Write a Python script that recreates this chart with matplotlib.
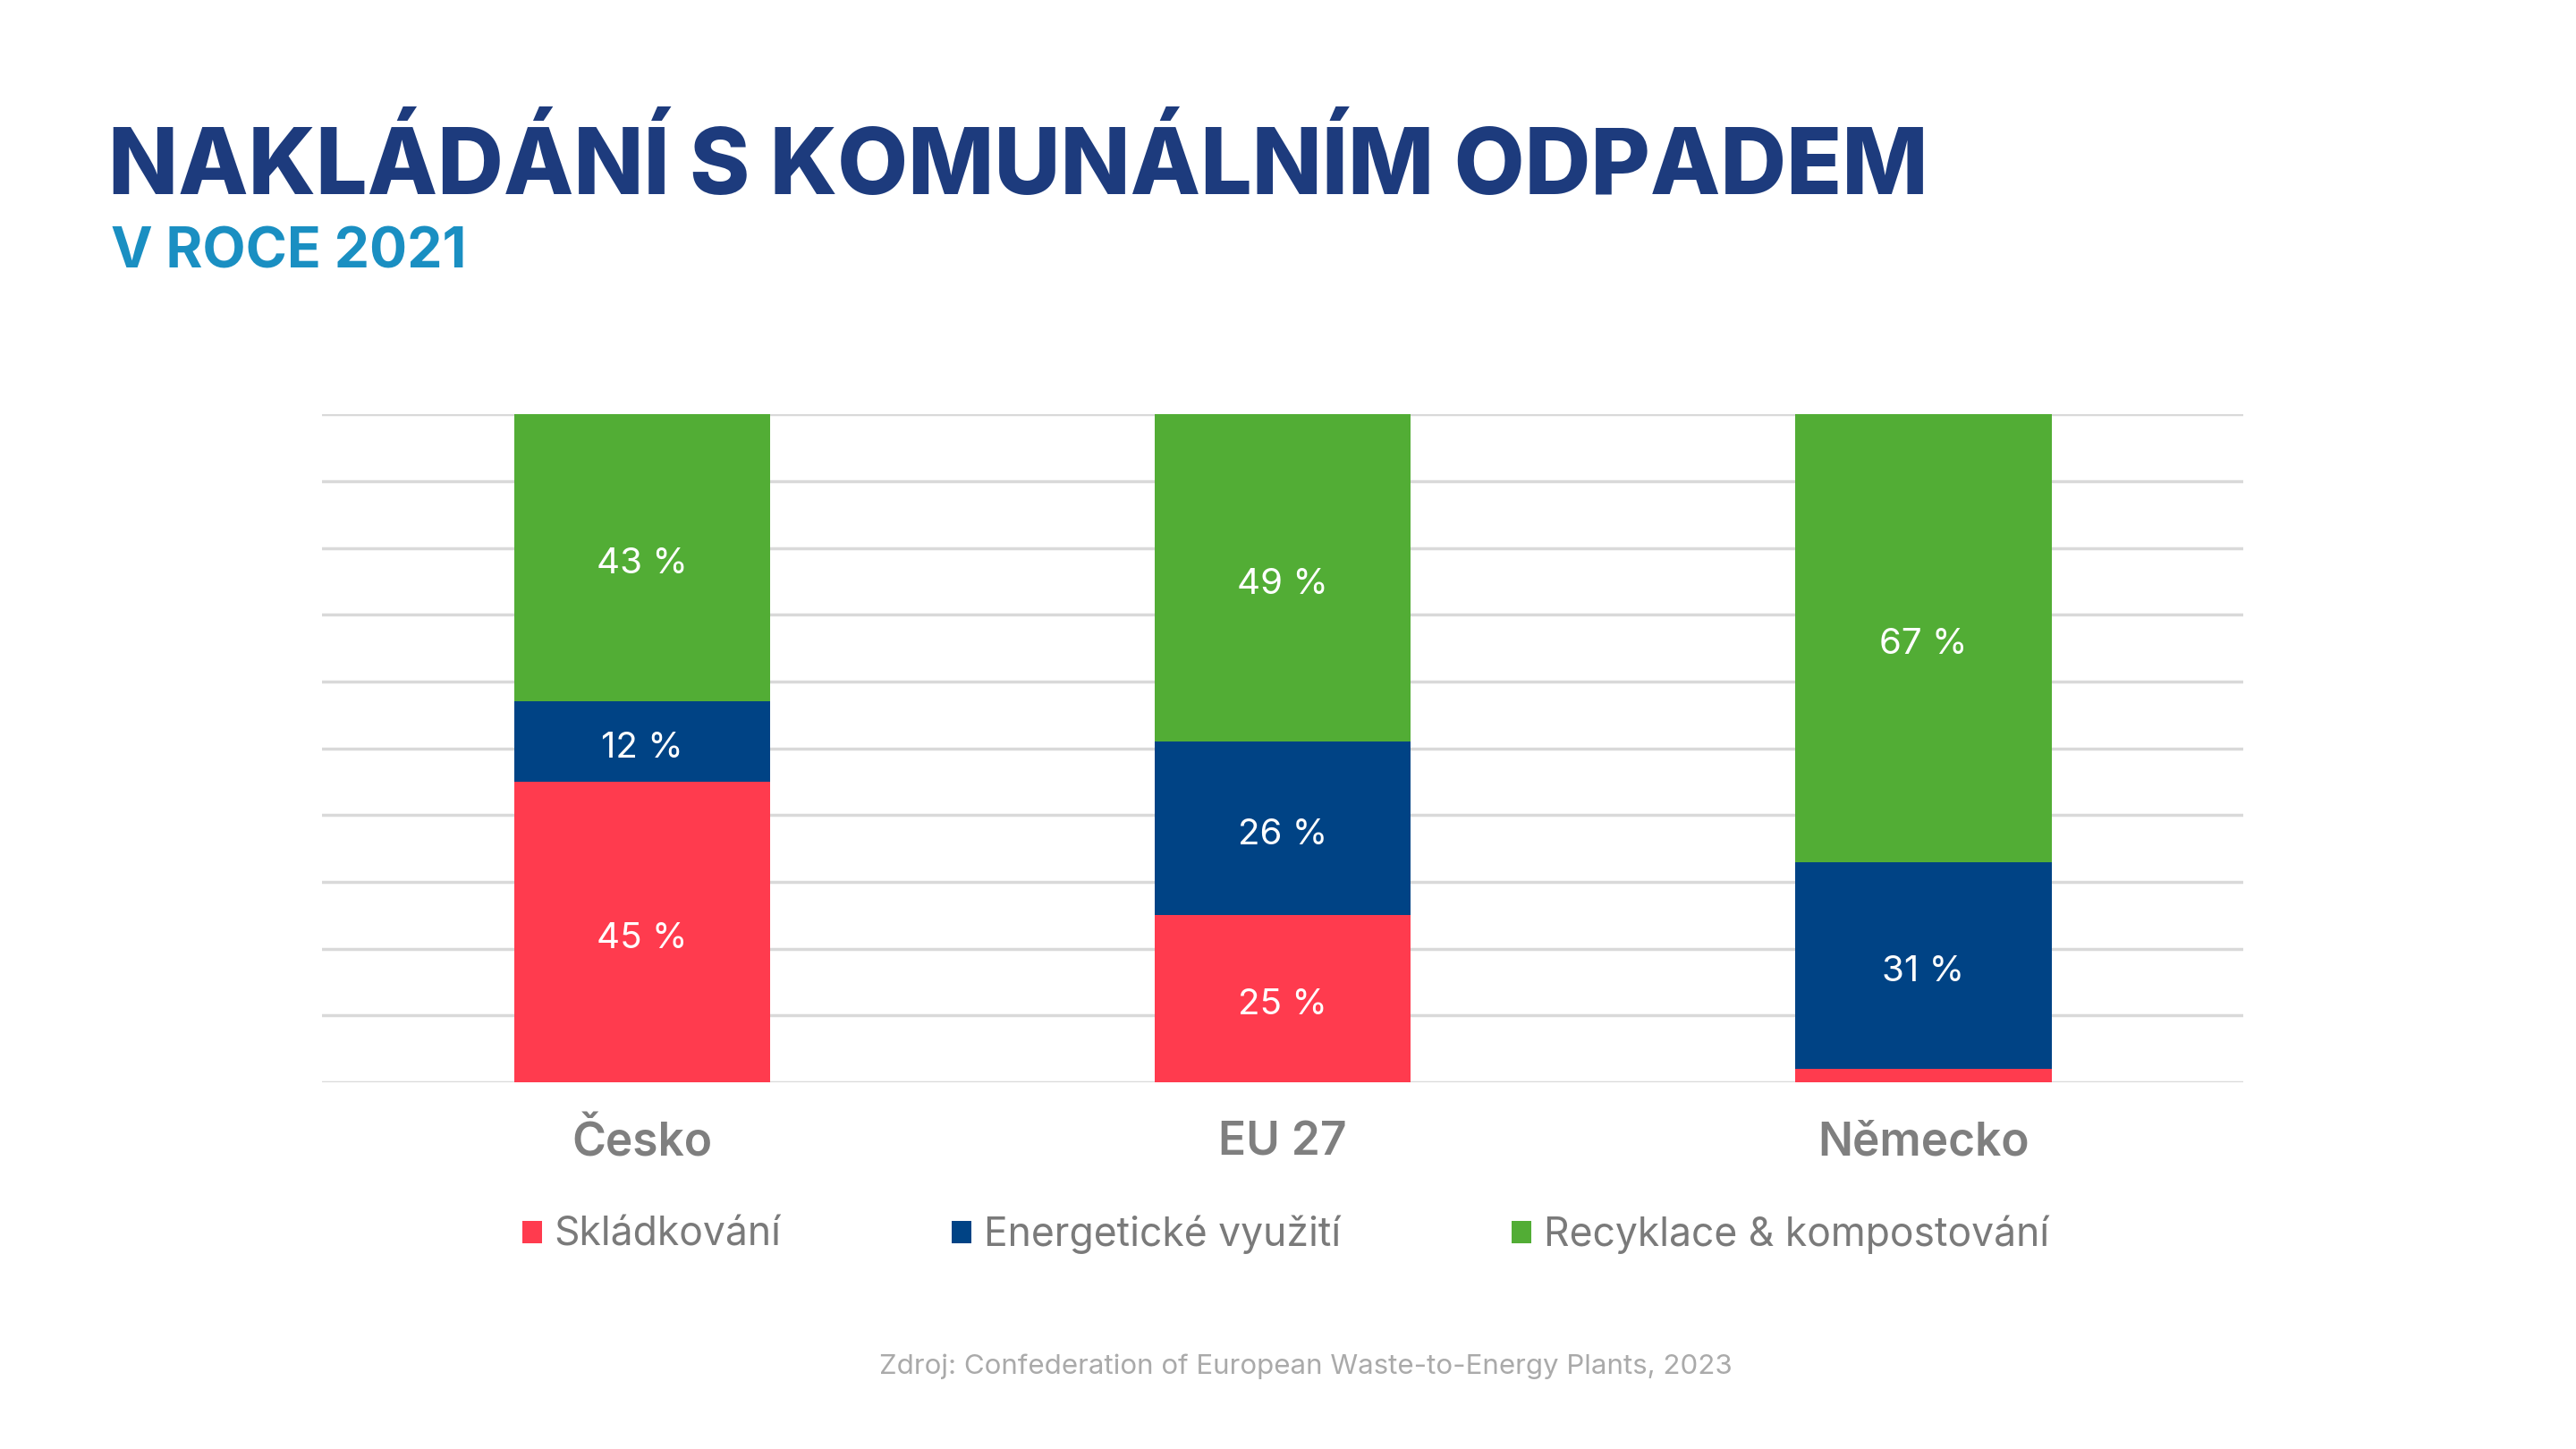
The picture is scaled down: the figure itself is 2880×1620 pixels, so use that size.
import matplotlib.pyplot as plt
import numpy as np

plt.rcParams['font.family'] = ['Inter', 'DejaVu Sans']

# data (%)
categories = ['Česko', 'EU 27', 'Německo']
series_names = ['Skládkování', 'Energetické využití', 'Recyklace & kompostování']
skladkovani = [45, 25, 2]
energeticke = [12, 26, 31]
recyklace = [43, 49, 67]
labels_sklad = ['45 %', '25 %', '']
labels_energ = ['12 %', '26 %', '31 %']
labels_recyk = ['43 %', '49 %', '67 %']

colors = ['#ff3b4e', '#004385', '#52ad35']

fig = plt.figure(figsize=(28.8, 16.2), dpi=100)
ax = fig.add_axes([0.125, 0.253, 0.746, 0.461])

x = np.arange(len(categories))
bottom = np.zeros(len(categories))
for vals, labs, col, name in zip([skladkovani, energeticke, recyklace],
                                 [labels_sklad, labels_energ, labels_recyk],
                                 colors, series_names):
    bars = ax.bar(x, vals, bottom=bottom, width=0.4, color=col, label=name, zorder=2)
    for rect, lab in zip(bars, labs):
        cx = rect.get_x() + rect.get_width() / 2
        cy = rect.get_y() + rect.get_height() / 2
        ax.annotate(lab, (cx, cy), xytext=(0, -5), textcoords='offset points',
                    ha='center', va='center', color='white', fontsize=29)
    bottom += np.array(vals)

ax.set_xlim(-0.5, 2.5)
ax.set_ylim(0, 100)
ax.set_yticks(np.arange(0, 101, 10))
ax.yaxis.grid(True, color='#d9d9d9', linewidth=2.5)
ax.set_axisbelow(True)
ax.tick_params(axis='y', left=False, labelleft=False)
ax.tick_params(axis='x', bottom=False, pad=28)
ax.set_xticks(x)
ax.set_xticklabels(categories, fontsize=37, fontweight='semibold', color='#7f7f7f')
for s in ax.spines.values():
    s.set_visible(False)

fig.legend(loc='center', bbox_to_anchor=(0.499, 0.148), ncol=3, frameon=False,
           fontsize=32, labelcolor='#7a7a7a', handlelength=0.5, handleheight=0.5,
           handletextpad=0.3, columnspacing=4.3)

fig.text(0.042, 0.866, 'NAKLÁDÁNÍ S KOMUNÁLNÍM ODPADEM', fontsize=73.5,
         fontweight='heavy', color='#1d3b7d', ha='left', va='baseline')
fig.text(0.043, 0.815, 'V ROCE 2021', fontsize=45, fontweight='bold',
         color='#1a8fc2', ha='left', va='baseline')
fig.text(0.507, 0.052, 'Zdroj: Confederation of European Waste-to-Energy Plants, 2023',
         fontsize=22.5, color='#aaaaaa', ha='center', va='baseline')

fig.savefig('out.png', dpi=100, facecolor='white')
